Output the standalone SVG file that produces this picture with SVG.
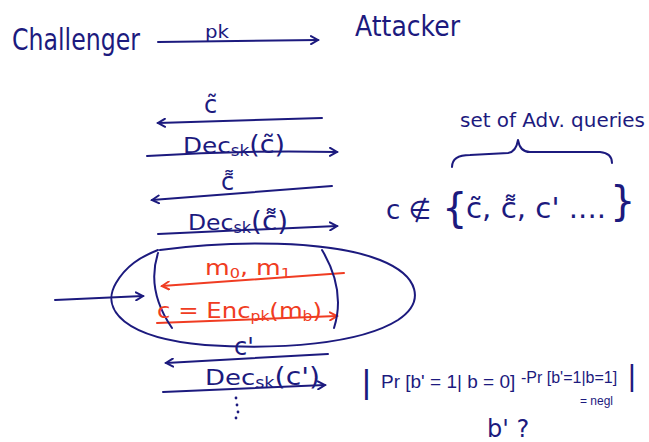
<svg xmlns="http://www.w3.org/2000/svg" width="649" height="442" viewBox="0 0 649 442">
<style>
.ink{fill:#1c1a7e;font-family:"DejaVu Sans","Liberation Sans",sans-serif;}
.inkl{fill:#1c1a7e;font-family:"Liberation Sans","DejaVu Sans",sans-serif;}
.red{fill:#f03c22;font-family:"DejaVu Sans","Liberation Sans",sans-serif;}
.ln{fill:none;stroke:#1c1a7e;stroke-width:2;stroke-linecap:round;stroke-linejoin:round;}
.rl{fill:none;stroke:#f03c22;stroke-width:2;stroke-linecap:round;stroke-linejoin:round;}
</style>
<defs>
<marker id="ah" markerWidth="10" markerHeight="10" refX="8" refY="5" orient="auto" markerUnits="userSpaceOnUse">
<path d="M1,1 L8,5 L1,9" fill="none" stroke="#1c1a7e" stroke-width="2" stroke-linecap="round"/>
</marker>
<marker id="ahr" markerWidth="10" markerHeight="10" refX="8" refY="5" orient="auto" markerUnits="userSpaceOnUse">
<path d="M1,1 L8,5 L1,9" fill="none" stroke="#f03c22" stroke-width="2" stroke-linecap="round"/>
</marker>
</defs>
<rect width="649" height="442" fill="#ffffff"/>

<g id="challenger"><text class="ink" x="12" y="50" font-size="30" textLength="128" lengthAdjust="spacingAndGlyphs">Challenger</text></g>
<g id="attacker"><text class="ink" x="355" y="36" font-size="28" textLength="105" lengthAdjust="spacingAndGlyphs">Attacker</text></g>

<g id="connectors">
<path class="ln" d="M158,42 L318,40" marker-end="url(#ah)"/>
<path class="ln" d="M322,118 L158,123" marker-end="url(#ah)"/>
<path class="ln" d="M147,156 Q240,150 337,152" marker-end="url(#ah)"/>
<path class="ln" d="M332,186 L152,200" marker-end="url(#ah)"/>
<path class="ln" d="M158,234 L337,226" marker-end="url(#ah)"/>
<path class="rl" d="M344,273 L162,286" marker-end="url(#ahr)"/>
<path class="rl" d="M157,323 L337,316" marker-end="url(#ahr)"/>
<path class="ln" d="M55,300 L143,296" marker-end="url(#ah)"/>
<path class="ln" d="M328,354 L166,363" marker-end="url(#ah)"/>
<path class="ln" d="M163,392 L325,385" marker-end="url(#ah)"/>
</g>

<g id="msg-pk"><text class="ink" x="205" y="38" font-size="18" textLength="24" lengthAdjust="spacingAndGlyphs">pk</text></g>

<g id="msg-ctilde"><text class="ink" x="204" y="113" font-size="24">c&#x303;</text></g>
<g id="msg-dec1"><text class="ink" x="183" y="153" font-size="22" textLength="102" lengthAdjust="spacingAndGlyphs">Dec<tspan font-size="15" dy="3">sk</tspan><tspan font-size="24" dy="-3">(c&#x303;)</tspan></text></g>
<g id="msg-cdtilde"><text class="ink" x="221" y="190" font-size="24">c&#x34C;</text></g>
<g id="msg-dec2"><text class="ink" x="188" y="230" font-size="22" textLength="100" lengthAdjust="spacingAndGlyphs">Dec<tspan font-size="15" dy="3">sk</tspan><tspan font-size="26" dy="-3">(c&#x34C;)</tspan></text></g>

<g id="challenge">
<path class="ln" d="M160,250 C230,240 330,240 380,260 C420,276 425,302 398,320 C360,344 280,350 205,345 C125,338 100,310 116,283 C126,266 140,257 158,250"/>
<path class="ln" d="M158,253 Q146,290 172,328"/>
<path class="ln" d="M322,250 Q346,290 334,328"/>
<text class="red" x="205" y="275" font-size="22" textLength="86" lengthAdjust="spacingAndGlyphs">m<tspan font-size="14" dy="3">0</tspan><tspan dy="-3">, m</tspan><tspan font-size="14" dy="3">1</tspan></text>
<text class="red" x="157" y="318" font-size="22" textLength="165" lengthAdjust="spacingAndGlyphs">c = Enc<tspan font-size="14" dy="3">pk</tspan><tspan dy="-3">(m</tspan><tspan font-size="14" dy="3">b</tspan><tspan dy="-3">)</tspan></text>
</g>

<g id="msg-cprime"><text class="ink" x="234" y="355" font-size="24">c'</text></g>
<g id="msg-dec3"><text class="ink" x="205" y="385" font-size="22" textLength="115" lengthAdjust="spacingAndGlyphs">Dec<tspan font-size="15" dy="3">sk</tspan><tspan font-size="24" dy="-3">(c')</tspan></text></g>
<g id="ellipsis">
<circle cx="236" cy="398" r="1.4" fill="#1c1a7e"/>
<circle cx="237" cy="405" r="1.4" fill="#1c1a7e"/>
<circle cx="238" cy="412" r="1.4" fill="#1c1a7e"/>
<circle cx="236" cy="418" r="1.4" fill="#1c1a7e"/>
</g>

<g id="queries">
<text class="ink" x="460" y="127" font-size="20" textLength="185" lengthAdjust="spacingAndGlyphs">set of Adv. queries</text>
<path class="ln" d="M452,167 Q452,155 470,155 L508,153 Q516,152 518,140 Q520,152 530,152 L600,152 Q612,153 612,163"/>
<text class="ink" x="386" y="219" font-size="26">c ∉</text>
<text class="ink" x="442" y="222" font-size="40">{</text>
<text class="ink" x="466" y="218" font-size="28" textLength="140" lengthAdjust="spacingAndGlyphs">c&#x303;, c&#x34C;, c' ....</text>
<text class="ink" x="610" y="215" font-size="40">}</text>
</g>

<g id="advantage">
<text class="inkl" x="362" y="393" font-size="34">|</text>
<text class="inkl" x="381" y="388" font-size="19">Pr [b' = 1| b = 0]</text>
<text class="inkl" x="521" y="383" font-size="16">-Pr [b'=1|b=1]</text>
<text class="inkl" x="628" y="386" font-size="30">|</text>
<text class="inkl" x="580" y="405" font-size="12">= negl</text>
<text class="ink" x="487" y="437" font-size="24">b' ?</text>
</g>
</svg>
